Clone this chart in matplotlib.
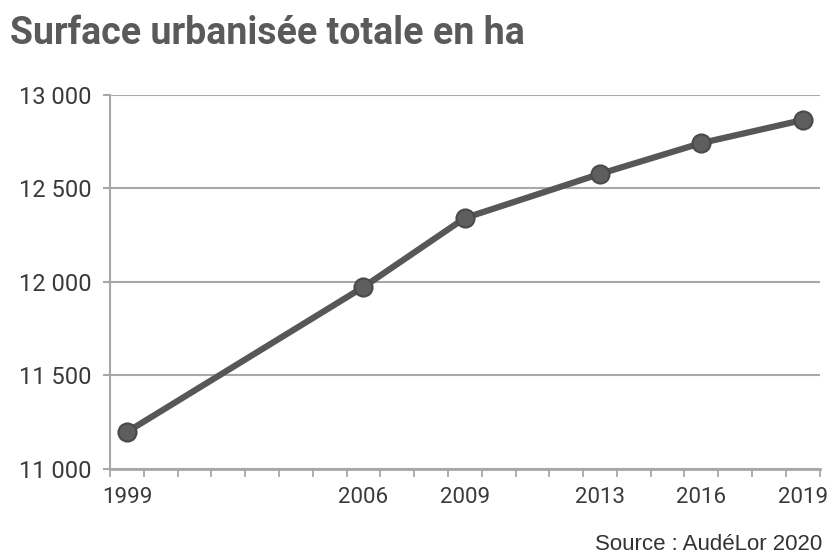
import matplotlib.pyplot as plt
from matplotlib.ticker import FixedLocator, FuncFormatter

years = [1999, 2006, 2009, 2013, 2016, 2019]
surface = [11198, 11973, 12342, 12578, 12743, 12866]
yticks = [11000, 11500, 12000, 12500, 13000]

grey = "#575757"
grid = "#a8a8a8"

fig = plt.figure(figsize=(8.28, 5.6), dpi=100)
ax = fig.add_axes([0.1329, 0.1625, 0.857, 0.6679])

ax.plot(years, surface, color=grey, lw=4.5, marker="o", ms=13,
        mfc="#5e5e5e", mec="#4a4a4a", mew=1.5, solid_capstyle="round", zorder=3)

ax.set_xlim(1998.5, 2019.5)
ax.set_ylim(11000, 13000)
ax.set_yticks(yticks)
ax.yaxis.set_major_formatter(FuncFormatter(lambda v, p: f"{int(v):,}".replace(",", " ")))
ax.set_xticks(years)
ax.xaxis.set_minor_locator(FixedLocator([1998.5 + k for k in range(22)]))
ax.tick_params(axis="x", which="major", length=0, pad=13, labelsize=16, labelcolor="#3a3a3a")
ax.tick_params(axis="x", which="minor", length=6, direction="out", color=grid, width=1.3)
ax.tick_params(axis="y", length=5, color=grid, width=1.5, labelsize=17, labelcolor="#3a3a3a", pad=8)
for lab in ax.get_xticklabels() + ax.get_yticklabels():
    lab.set_family("Roboto")

ax.grid(axis="y", color=grid, lw=1.5)
ax.set_axisbelow(True)
for s in ["top", "right"]:
    ax.spines[s].set_visible(False)
ax.spines["left"].set_color(grid)
ax.spines["left"].set_linewidth(1.5)
ax.spines["bottom"].set_color(grid)
ax.spines["bottom"].set_linewidth(2)

fig.text(0.012, 0.94, "Surface urbanisée totale en ha", fontsize=27, fontweight="bold",
         color="#5a5a5a", family="Roboto", va="center")
fig.text(0.993, 0.027, "Source : AudéLor 2020", fontsize=16, color="#333333",
         family="Liberation Sans", ha="right", va="center")

fig.savefig("out.png", dpi=100)
